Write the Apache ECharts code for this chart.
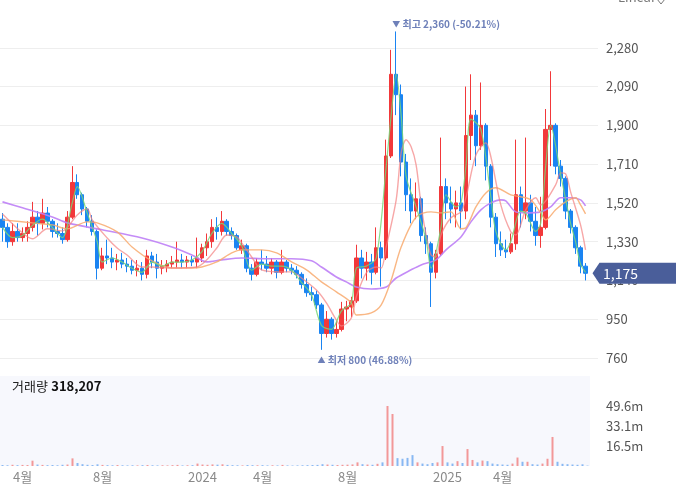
<!DOCTYPE html>
<html>
<head>
<meta charset="utf-8">
<script src="https://cdn.jsdelivr.net/npm/echarts/dist/echarts.min.js"></script>
<style>
  html, body { margin: 0; padding: 0; background: #fff; }
  #chart { width: 676px; height: 488px; }
</style>
</head>
<body>
<div id="chart"></div>
<script>
// one candle per ~week, Mar 2023 .. Jul 2025
const opens = [1440,1400,1330,1380,1350,1370,1400,1450,1420,1470,1430,1380,1370,1340,1450,1620,1560,1490,1430,1380,
  1200,1260,1250,1230,1240,1220,1210,1190,1200,1170,1260,1230,1200,1210,1220,1230,1240,1230,1240,1230,
  1250,1300,1330,1400,1380,1430,1380,1360,1290,1310,1200,1170,1230,1220,1200,1230,1180,1230,1200,1190,
  1170,1120,1080,1070,1020,880,950,880,900,1000,1010,1040,1250,1200,1230,1180,1300,1250,1750,2150,
  2050,1720,1560,1480,1540,1360,1320,1180,1270,1600,1520,1490,1520,1480,1850,1950,1800,1900,1700,1450,
  1320,1290,1280,1320,1560,1480,1520,1430,1360,1400,1880,1900,1700,1640,1480,1400,1300,1210];
const closes = [1400,1330,1380,1350,1370,1400,1450,1420,1470,1430,1380,1370,1340,1450,1620,1560,1490,1430,1380,1200,
  1260,1250,1230,1240,1220,1210,1190,1200,1170,1260,1230,1200,1210,1220,1230,1240,1230,1240,1230,1250,
  1300,1330,1400,1380,1430,1380,1360,1300,1310,1200,1170,1230,1220,1200,1230,1180,1230,1200,1190,1170,
  1120,1080,1070,1020,880,950,880,900,1000,1010,1040,1250,1200,1230,1180,1300,1250,1750,2150,2050,
  1720,1560,1480,1540,1360,1320,1180,1270,1600,1520,1490,1520,1480,1850,1950,1800,1900,1700,1450,1320,
  1290,1280,1320,1560,1480,1520,1430,1360,1400,1880,1900,1700,1640,1480,1400,1300,1210,1175];
const lows = [1330,1300,1310,1330,1330,1330,1380,1360,1390,1400,1350,1350,1320,1330,1440,1540,1460,1400,1360,1145,
  1190,1220,1200,1190,1200,1180,1170,1160,1140,1150,1200,1150,1170,1180,1200,1200,1200,1200,1210,1200,
  1230,1260,1300,1340,1360,1360,1340,1290,1270,1180,1140,1160,1190,1180,1170,1150,1170,1180,1170,1150,
  1100,1060,1040,1000,800,860,850,860,890,940,960,1030,1150,1140,1120,1170,1110,1240,1740,1950,
  1650,1480,1420,1440,1330,1270,1010,1150,1260,1440,1420,1400,1390,1440,1730,1700,1780,1630,1400,1255,
  1260,1250,1270,1290,1400,1440,1380,1310,1300,1390,1700,1660,1600,1440,1370,1270,1175,1140];
const highs = [1470,1420,1420,1420,1400,1430,1525,1480,1540,1500,1440,1420,1400,1480,1700,1660,1570,1500,1460,1390,
  1300,1340,1300,1270,1275,1250,1240,1240,1230,1290,1280,1270,1240,1240,1260,1330,1270,1260,1260,1350,
  1320,1370,1440,1450,1480,1440,1400,1370,1340,1320,1220,1250,1290,1260,1250,1240,1290,1240,1220,1210,
  1180,1150,1110,1090,1030,990,960,940,1035,1040,1060,1315,1290,1280,1270,1400,1330,1830,2270,2360,
  2100,1760,1640,1620,1550,1400,1330,1290,1840,1640,1600,1580,1600,2090,2150,1975,2110,1910,1710,1470,
  1380,1340,1370,1830,1600,1840,1560,1500,1550,1980,2165,1910,1730,1650,1490,1410,1310,1225];
// volume in millions
const volumes = [0.8,0.6,1.0,0.7,0.9,0.8,4.4,1.2,0.9,0.7,0.8,0.6,1.0,1.2,6.3,2.5,1.5,1.0,0.8,1.4,
  0.9,0.7,0.6,0.8,0.6,0.5,0.6,0.5,0.7,0.8,0.6,0.5,0.6,0.5,0.7,0.9,0.5,0.6,0.7,2.0,
  1.2,1.0,1.3,1.1,1.4,0.9,0.7,0.6,0.5,0.8,0.7,0.6,0.7,0.5,0.6,0.5,0.9,0.5,0.4,0.5,
  0.6,0.7,0.8,0.9,1.5,1.2,1.0,0.8,1.0,1.1,1.3,3.0,1.5,1.2,1.0,1.8,3.0,49.6,43.0,6.5,
  6.0,6.7,9.0,3.0,2.0,1.5,2.5,3.0,16.5,3.0,2.0,4.0,2.5,14.0,5.0,3.0,4.5,4.0,2.0,1.5,
  1.2,1.0,2.0,7.0,3.5,3.5,1.5,1.2,2.0,6.0,24.0,3.5,1.8,1.5,1.2,1.0,1.4,0.318207];

// moving averages: [candle index, price]
const ma5 = [[0,1400],[2,1350],[4,1360],[6,1410],[8,1440],[10,1400],[12,1350],[14,1520],[15,1600],[17,1470],
  [19,1330],[20,1230],[22,1250],[24,1230],[26,1200],[28,1180],[30,1230],[32,1210],[34,1230],[36,1230],
  [38,1240],[40,1280],[42,1370],[44,1420],[46,1370],[48,1310],[50,1190],[52,1220],[54,1210],[56,1210],
  [58,1190],[60,1130],[62,1070],[64,920],[66,900],[68,990],[70,1030],[71,1200],[73,1210],[75,1250],
  [77,1700],[78,1950],[79,2150],[80,1950],[81,1650],[83,1500],[85,1340],[86,1200],[88,1400],[89,1560],
  [91,1500],[92,1520],[93,1700],[94,1930],[96,1880],[98,1550],[99,1380],[101,1290],[102,1330],[104,1480],
  [105,1470],[107,1380],[108,1420],[109,1700],[110,1900],[112,1660],[114,1420],[115,1330],[116,1220],[117,1180]];
const ma20 = [[0,1466],[4,1373],[6,1344],[9,1393],[12,1383],[15,1461],[17,1491],[18,1437],[21,1348],[23,1299],
  [25,1265],[28,1206],[30,1206],[34,1201],[39,1206],[41,1241],[43,1299],[45,1363],[47,1353],[48,1324],
  [50,1255],[52,1192],[56,1182],[58,1182],[60,1152],[63,1093],[65,1030],[67,946],[68,917],[70,956],
  [71,1059],[73,1177],[75,1206],[76,1201],[77,1304],[79,1535],[80,1765],[81,1829],[82,1795],[83,1706],
  [84,1510],[85,1363],[86,1265],[87,1255],[88,1363],[90,1447],[92,1476],[93,1545],[95,1755],[97,1814],
  [98,1746],[100,1510],[102,1378],[103,1363],[105,1486],[107,1545],[108,1510],[111,1608],[112,1667],[113,1662],
  [114,1574],[116,1412],[117,1290]];
const ma60 = [[0,1437],[6,1422],[10,1412],[13,1393],[17,1427],[19,1422],[23,1378],[26,1304],[30,1236],[34,1201],
  [38,1201],[40,1206],[43,1231],[46,1275],[48,1290],[52,1290],[55,1275],[58,1231],[61,1192],[64,1133],
  [67,1084],[70,1030],[71,971],[74,981],[76,1020],[78,1142],[80,1304],[83,1451],[86,1476],[88,1471],
  [90,1476],[92,1393],[93,1398],[95,1500],[97,1569],[99,1594],[102,1559],[104,1550],[106,1535],[108,1471],
  [109,1437],[111,1486],[113,1525],[115,1545],[116,1510],[117,1466]];
const ma120 = [[0,1525],[4,1496],[10,1451],[13,1422],[20,1388],[28,1348],[34,1304],[38,1265],[41,1231],[44,1241],
  [48,1250],[53,1246],[58,1246],[62,1236],[64,1206],[67,1157],[69,1133],[71,1108],[74,1098],[77,1108],
  [79,1152],[82,1192],[84,1216],[87,1241],[89,1290],[92,1353],[94,1427],[96,1486],[98,1520],[100,1535],
  [101,1530],[103,1476],[105,1471],[108,1476],[110,1500],[112,1545],[114,1545],[116,1535],[117,1505]];

// x axis tick labels by candle index
const tickLabels = {4: '4월', 20: '8월', 40: '2024', 52: '4월', 69: '8월', 89: '2025', 100: '4월'};

const UP = '#f2383a', DOWN = '#1a84f2';
const FONT = "'Noto Sans CJK KR', 'Noto Sans', sans-serif";

const n = closes.length;
const priceCats = [], volCats = [];
for (let i = 0; i < n + 2; i++) priceCats.push(String(i));
for (let i = 0; i < n; i++) volCats.push(String(i));

const ohlc = closes.map((c, i) => [opens[i], c, lows[i], highs[i]]);
const volData = volumes.map((v, i) => ({
  value: v,
  itemStyle: { color: closes[i] >= opens[i] ? '#f29898' : '#88b8f2' }
}));

const last = closes[n - 1];
const hi = Math.max(...highs), lo = Math.min(...lows);
const hiIdx = highs.indexOf(hi), loIdx = lows.indexOf(lo);
const fmt = v => v.toLocaleString('en-US');
const pct = base => ((last - base) / base * 100).toFixed(2);

function maLine(name, data, color, width) {
  return {
    name: name, type: 'line', xAxisIndex: 0, yAxisIndex: 0, z: 3,
    data: data, smooth: 0.3, showSymbol: false, silent: true,
    lineStyle: { color: color, width: width }
  };
}

const chart = echarts.init(document.getElementById('chart'));
chart.setOption({
  animation: false,
  textStyle: { fontFamily: FONT },
  grid: [
    { left: 0, right: 78, top: 9, bottom: 130, outerBoundsMode: 'none' },
    { left: 0, right: 86, top: 376, bottom: 22, show: true, backgroundColor: '#f7f8fd', borderWidth: 0, outerBoundsMode: 'none' }
  ],
  xAxis: [
    { type: 'category', gridIndex: 0, data: priceCats, boundaryGap: true,
      axisLine: { show: false }, axisTick: { show: false }, axisLabel: { show: false }, splitLine: { show: false } },
    { type: 'category', gridIndex: 1, data: volCats, boundaryGap: true,
      axisLine: { show: false }, axisTick: { show: false }, splitLine: { show: false },
      axisLabel: {
        color: '#8a8a8a', fontSize: 13, margin: 5, fontFamily: FONT,
        interval: idx => tickLabels[idx] !== undefined,
        formatter: (val, idx) => tickLabels[idx] || ''
      } }
  ],
  yAxis: [
    { type: 'value', gridIndex: 0, position: 'right', min: 760, max: 2470, interval: 190,
      axisLine: { show: false }, axisTick: { show: false },
      splitLine: { show: true, showMaxLine: false, lineStyle: { color: '#eeeeee', width: 1 } },
      axisLabel: { color: '#555', fontSize: 13, margin: 8, showMaxLabel: false, fontFamily: FONT,
        formatter: v => fmt(v) } },
    { type: 'value', gridIndex: 1, position: 'right', min: 0, max: 74.4, interval: 16.53,
      axisLine: { show: false }, axisTick: { show: false }, splitLine: { show: false },
      axisLabel: { color: '#555', fontSize: 13, margin: 16, fontFamily: FONT,
        formatter: v => (v > 0 && v < 50) ? v.toFixed(1) + 'm' : '' } }
  ],
  series: [
    {
      type: 'candlestick', xAxisIndex: 0, yAxisIndex: 0, data: ohlc, barWidth: 4,
      itemStyle: { color: UP, color0: DOWN, borderColor: UP, borderColor0: DOWN, borderWidth: 1 },
      markPoint: {
        silent: true,
        symbol: 'circle', symbolSize: 1, itemStyle: { color: 'transparent' },
        data: [
          { coord: [hiIdx, hi],
            label: { show: true, position: 'inside', align: 'left', verticalAlign: 'middle', offset: [-4, -7],
              color: '#6e80b9', fontWeight: 'bold', fontSize: 10, fontFamily: FONT,
              formatter: '{t|▼} 최고 ' + fmt(hi) + ' (' + pct(hi) + '%)',
              rich: { t: { fontSize: 8, color: '#6e80b9' } } } },
          { coord: [loIdx, lo],
            label: { show: true, position: 'inside', align: 'left', verticalAlign: 'middle', offset: [-4, 10],
              color: '#6e80b9', fontWeight: 'bold', fontSize: 10, fontFamily: FONT,
              formatter: '{t|▲} 최저 ' + fmt(lo) + ' (' + pct(lo) + '%)',
              rich: { t: { fontSize: 8, color: '#6e80b9' } } } },
          { coord: [n + 1, last],
            symbol: 'path://M0,10.5 L7,0 L90,0 L90,21 L7,21 Z', symbolSize: [90, 21], symbolKeepAspect: false,
            symbolOffset: [42, 0],
            itemStyle: { color: '#4a5e9a' },
            label: { show: true, position: 'inside', offset: [-17, 0], color: '#fff', fontSize: 14, fontFamily: FONT,
              formatter: fmt(last) } }
        ]
      }
    },
    maLine('MA120', ma120, 'rgba(190,128,246,0.9)', 1.6),
    maLine('MA60', ma60, 'rgba(248,170,110,0.85)', 1.4),
    maLine('MA20', ma20, 'rgba(244,130,130,0.7)', 1.4),
    maLine('MA5', ma5, 'rgba(120,214,120,0.85)', 1.2),
    { type: 'bar', xAxisIndex: 1, yAxisIndex: 1, data: volData, barWidth: 2, silent: true }
  ],
  graphic: [
    { type: 'text', left: 12, top: 380,
      style: { text: '{a|거래량} {b|' + fmt(Math.round(volumes[n - 1] * 1e6)) + '}',
        rich: { a: { fontSize: 13, fill: '#222', fontFamily: FONT }, b: { fontSize: 13, fontWeight: 'bold', fill: '#111', fontFamily: FONT } } } },
    { type: 'text', left: 618, top: -9,
      style: { text: 'Linear', fontSize: 13, fill: '#777', fontFamily: FONT } },
    { type: 'polyline', shape: { points: [[657, -1], [661, 4], [665, -1]] },
      style: { stroke: '#777', lineWidth: 1, fill: null } }
  ]
});
</script>
</body>
</html>
